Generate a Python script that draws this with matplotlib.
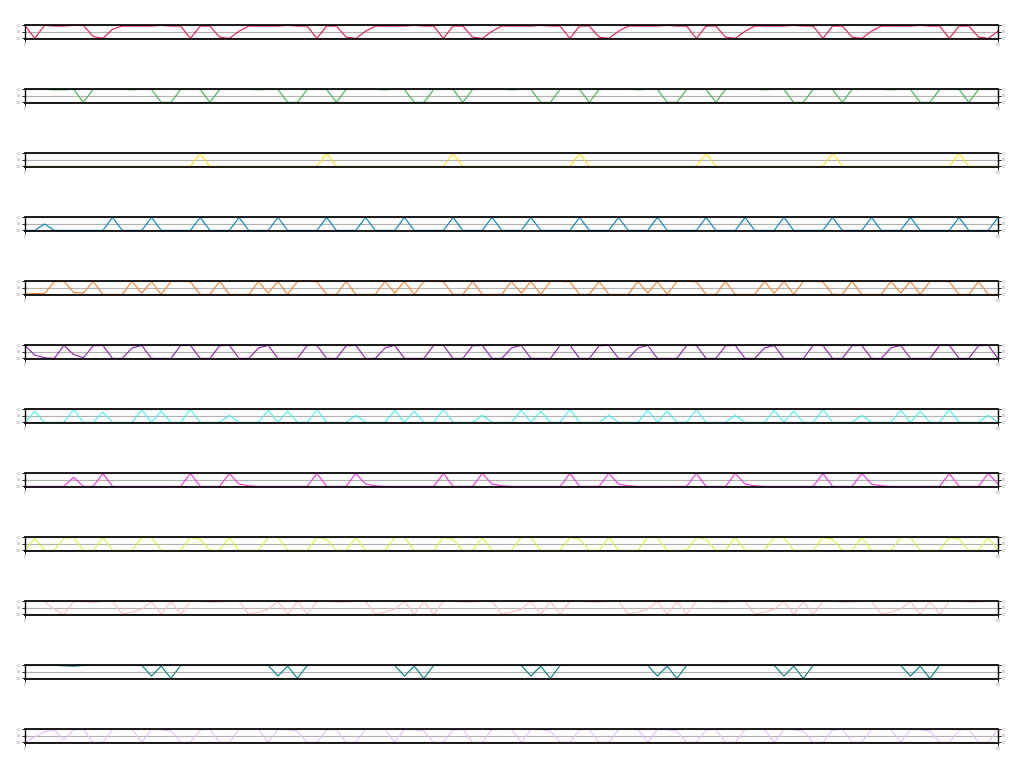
import matplotlib
matplotlib.use('Agg')
import matplotlib.pyplot as plt
import numpy as np

red = [1, 0, 1, 0.95, 0.95, 1, 1, 0.15, 0, 0.7, 0.95, 0.95, 0.95, 0.95, 1, 0.95, 0.95,
       0, 0.95, 0.95, 0.1, 0, 0.55, 0.95, 0.95, 0.95, 0.95, 1, 0.95, 0.95,
       0, 0.95, 0.95, 0.1, 0, 0.55, 0.95, 0.95, 0.95, 0.95, 1, 0.95, 0.95,
       0, 0.95, 0.95, 0.1, 0, 0.55, 0.95, 0.95, 0.95, 0.95, 1, 0.95, 0.95,
       0, 0.95, 0.95, 0.1, 0, 0.55, 0.95, 0.95, 0.95, 0.95, 1, 0.95, 0.95,
       0, 0.95, 0.95, 0.1, 0, 0.55, 0.95, 0.95, 0.95, 0.95, 1, 0.95, 0.95,
       0, 0.95, 0.95, 0.1, 0, 0.55, 0.95, 0.95, 0.95, 0.95, 1, 0.95, 0.95,
       0, 0.95, 0.95, 0.1, 0, 0.55]

green = [1, 1, 1, 0.97, 0.97, 1,
         0, 1, 1, 1, 1, 0.97, 1, 1, 0, 0, 1, 1, 1,
         0, 1, 1, 1, 1, 0.97, 1, 1, 0, 0, 1, 1, 1,
         0, 1, 1, 1, 1, 0.97, 1, 1, 0, 0, 1, 1, 1,
         0, 1, 1, 1, 1, 0.97, 1, 1, 0, 0, 1, 1, 1,
         0, 1, 1, 1, 1, 0.97, 1, 1, 0, 0, 1, 1, 1,
         0, 1, 1, 1, 1, 0.97, 1, 1, 0, 0, 1, 1, 1,
         0, 1, 1, 1, 1, 0.97, 1, 1, 0, 0, 1, 1, 1,
         0, 1, 1, 1]

yellow = [0, 0, 0, 0, 0, 0, 0, 0, 0, 0, 0, 0, 0, 0, 0, 0, 0, 0,
          1, 0, 0, 0, 0, 0, 0, 0, 0, 0, 0, 0, 0,
          1, 0, 0, 0, 0, 0, 0, 0, 0, 0, 0, 0, 0,
          1, 0, 0, 0, 0, 0, 0, 0, 0, 0, 0, 0, 0,
          1, 0, 0, 0, 0, 0, 0, 0, 0, 0, 0, 0, 0,
          1, 0, 0, 0, 0, 0, 0, 0, 0, 0, 0, 0, 0,
          1, 0, 0, 0, 0, 0, 0, 0, 0, 0, 0, 0, 0,
          1, 0, 0, 0, 0]

blue = [0, 0, 0.5, 0, 0, 0, 0, 0, 0, 1, 0, 0, 0, 1, 0, 0, 0, 0,
        1, 0, 0, 0, 1, 0, 0, 0, 1, 0, 0, 0, 0,
        1, 0, 0, 0, 1, 0, 0, 0, 1, 0, 0, 0, 0,
        1, 0, 0, 0, 1, 0, 0, 0, 1, 0, 0, 0, 0,
        1, 0, 0, 0, 1, 0, 0, 0, 1, 0, 0, 0, 0,
        1, 0, 0, 0, 1, 0, 0, 0, 1, 0, 0, 0, 0,
        1, 0, 0, 0, 1, 0, 0, 0, 1, 0, 0, 0, 0,
        1, 0, 0, 0, 1]

orange = [0.02, 0.08, 0.05, 0.97, 1, 0.15, 0.1, 1, 0, 0, 0, 1, 0.1, 1, 0,
          1, 1, 0.97, 0, 0, 1, 0, 0, 0, 1, 0.1, 1, 0,
          1, 1, 0.97, 0, 0, 1, 0, 0, 0, 1, 0.1, 1, 0,
          1, 1, 0.97, 0, 0, 1, 0, 0, 0, 1, 0.1, 1, 0,
          1, 1, 0.97, 0, 0, 1, 0, 0, 0, 1, 0.1, 1, 0,
          1, 1, 0.97, 0, 0, 1, 0, 0, 0, 1, 0.1, 1, 0,
          1, 1, 0.97, 0, 0, 1, 0, 0, 0, 1, 0.1, 1, 0,
          1, 1, 0.97, 0, 0, 1, 0, 0]

purple = [1, 0.25, 0.05, 0, 1, 0.3, 0.05, 0.97, 1, 0, 0, 0.8, 1,
          0, 0, 0, 1, 1, 0, 0, 0.97, 1, 0, 0, 0.8, 1,
          0, 0, 0, 1, 1, 0, 0, 0.97, 1, 0, 0, 0.8, 1,
          0, 0, 0, 1, 1, 0, 0, 0.97, 1, 0, 0, 0.8, 1,
          0, 0, 0, 1, 1, 0, 0, 0.97, 1, 0, 0, 0.8, 1,
          0, 0, 0, 1, 1, 0, 0, 0.97, 1, 0, 0, 0.8, 1,
          0, 0, 0, 1, 1, 0, 0, 0.97, 1, 0, 0, 0.8, 1,
          0, 0, 0, 1, 1, 0, 0, 0.97, 1, 0]

cyan = [0, 0.85, 0, 0, 0, 1, 0, 0, 0.8, 0, 0, 0, 0.97, 0, 0.87, 0, 0,
        1, 0, 0, 0, 0.55, 0, 0, 0, 0.95, 0, 0.87, 0, 0,
        1, 0, 0, 0, 0.55, 0, 0, 0, 0.95, 0, 0.87, 0, 0,
        1, 0, 0, 0, 0.55, 0, 0, 0, 0.95, 0, 0.87, 0, 0,
        1, 0, 0, 0, 0.55, 0, 0, 0, 0.95, 0, 0.87, 0, 0,
        1, 0, 0, 0, 0.55, 0, 0, 0, 0.95, 0, 0.87, 0, 0,
        1, 0, 0, 0, 0.55, 0, 0, 0, 0.95, 0, 0.87, 0, 0,
        1, 0, 0, 0, 0.55, 0]

magenta = [0, 0, 0, 0, 0, 0.7, 0, 0, 1, 0, 0, 0, 0, 0, 0, 0, 0,
           1, 0, 0, 0, 1, 0.18, 0.05, 0, 0, 0, 0, 0, 0,
           1, 0, 0, 0, 1, 0.18, 0.05, 0, 0, 0, 0, 0, 0,
           1, 0, 0, 0, 1, 0.18, 0.05, 0, 0, 0, 0, 0, 0,
           1, 0, 0, 0, 1, 0.18, 0.05, 0, 0, 0, 0, 0, 0,
           1, 0, 0, 0, 1, 0.18, 0.05, 0, 0, 0, 0, 0, 0,
           1, 0, 0, 0, 1, 0.18, 0.05, 0, 0, 0, 0, 0, 0,
           1, 0, 0, 0, 1, 0.18]

lime = [0, 0.95, 0, 0, 0.95, 1, 0, 0, 1, 0, 0, 0,
        1, 1, 0, 0, 0, 1, 0.85, 0, 0, 1, 0, 0, 0,
        1, 1, 0, 0, 0, 1, 0.85, 0, 0, 1, 0, 0, 0,
        1, 1, 0, 0, 0, 1, 0.85, 0, 0, 1, 0, 0, 0,
        1, 1, 0, 0, 0, 1, 0.85, 0, 0, 1, 0, 0, 0,
        1, 1, 0, 0, 0, 1, 0.85, 0, 0, 1, 0, 0, 0,
        1, 1, 0, 0, 0, 1, 0.85, 0, 0, 1, 0, 0, 0,
        1, 1, 0, 0, 0, 1, 0.85, 0, 0, 1, 0]

pink = [1, 1, 1, 0.4, 0, 1, 0.97, 0.93, 1, 1,
        0.02, 0.18, 0.4, 1, 0, 1, 0, 1, 1, 0.95, 0.95, 1, 1,
        0.02, 0.18, 0.4, 1, 0, 1, 0, 1, 1, 0.95, 0.95, 1, 1,
        0.02, 0.18, 0.4, 1, 0, 1, 0, 1, 1, 0.95, 0.95, 1, 1,
        0.02, 0.18, 0.4, 1, 0, 1, 0, 1, 1, 0.95, 0.95, 1, 1,
        0.02, 0.18, 0.4, 1, 0, 1, 0, 1, 1, 0.95, 0.95, 1, 1,
        0.02, 0.18, 0.4, 1, 0, 1, 0, 1, 1, 0.95, 0.95, 1, 1,
        0.02, 0.18, 0.4, 1, 0, 1, 0, 1, 1, 0.95, 0.95, 1, 1]

teal = [1, 1, 1, 1, 0.97, 0.94, 1, 1, 1, 1, 1, 1, 1,
        0.18, 0.95, 0, 1, 1, 1, 1, 1, 1, 1, 1, 1, 1,
        0.18, 0.95, 0, 1, 1, 1, 1, 1, 1, 1, 1, 1, 1,
        0.18, 0.95, 0, 1, 1, 1, 1, 1, 1, 1, 1, 1, 1,
        0.18, 0.95, 0, 1, 1, 1, 1, 1, 1, 1, 1, 1, 1,
        0.18, 0.95, 0, 1, 1, 1, 1, 1, 1, 1, 1, 1, 1,
        0.18, 0.95, 0, 1, 1, 1, 1, 1, 1, 1, 1, 1, 1,
        0.18, 0.95, 0, 1, 1, 1, 1, 1, 1, 1]

lavender = [0, 0.42, 0.82, 0.97, 0.18, 0.97, 1,
            0, 0, 1, 1, 1, 0, 1, 0.97, 0.87, 0, 0, 0.95, 1,
            0, 0, 1, 1, 1, 0, 1, 0.97, 0.87, 0, 0, 0.95, 1,
            0, 0, 1, 1, 1, 0, 1, 0.97, 0.87, 0, 0, 0.95, 1,
            0, 0, 1, 1, 1, 0, 1, 0.97, 0.87, 0, 0, 0.95, 1,
            0, 0, 1, 1, 1, 0, 1, 0.97, 0.87, 0, 0, 0.95, 1,
            0, 0, 1, 1, 1, 0, 1, 0.97, 0.87, 0, 0, 0.95, 1,
            0, 0, 1, 1, 1, 0, 1, 0.97, 0.87, 0, 0, 0.95, 1,
            0, 0, 1]

series = [red, green, yellow, blue, orange, purple,
          cyan, magenta, lime, pink, teal, lavender]
colors = ['#e6194b', '#3cb44b', '#ffe119', '#0082c8', '#f58231', '#911eb4',
          '#46f0f0', '#f032e6', '#d2f53c', '#fabebe', '#008080', '#e6beff']
yticks = [0, 0.5, 1]

W, H = 1024, 768
fig = plt.figure(figsize=(W / 100, H / 100), dpi=100)
for k, (s, c) in enumerate(zip(series, colors)):
    top = 24.6 + 64 * k
    h = 14.6
    ax = fig.add_axes([25 / W, 1 - (top + h) / H, 973 / W, h / H])
    x = np.arange(len(s))
    ax.plot(x, s, color=c, lw=0.8)
    ax.set_xlim(0, len(s) - 1)
    ax.set_ylim(-0.06, 1.06)
    ax.set_yticks(yticks)
    ax.set_xticks([0, len(s) - 1])
    ax.yaxis.grid(True, color='#b0b0b0', lw=0.8)
    ax.set_axisbelow(True)
    ax.tick_params(axis='y', labelsize=2, length=2, width=0.6, pad=1,
                   left=True, right=True, labelleft=True, labelright=True,
                   labelcolor='#888888')
    ax.tick_params(axis='x', labelsize=2, length=2, width=0.6, pad=1,
                   labelcolor='#888888')
    for name, sp in ax.spines.items():
        sp.set_linewidth(1.25 if name in ('top', 'bottom') else 1.0)
        sp.set_color('black')

fig.savefig('out.png', dpi=100)
